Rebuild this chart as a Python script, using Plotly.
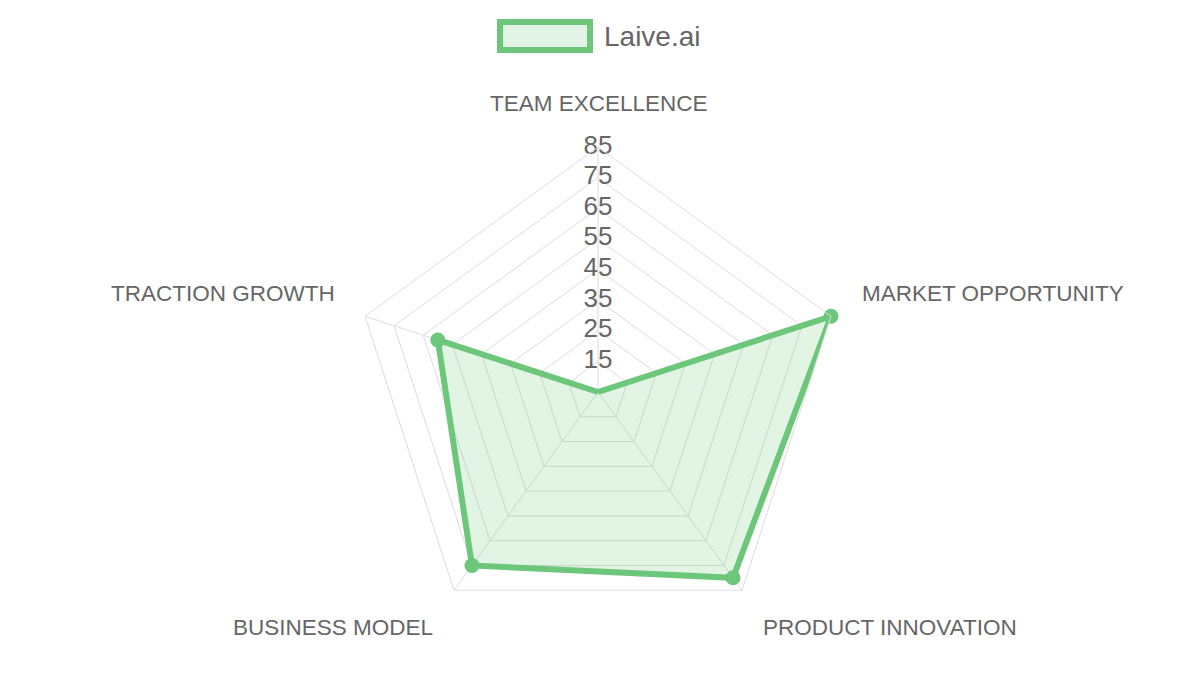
import plotly.graph_objects as go

categories = ["TEAM EXCELLENCE", "MARKET OPPORTUNITY", "PRODUCT INNOVATION",
              "BUSINESS MODEL", "TRACTION GROWTH"]
series_name = "Laive.ai"
values = [5, 85, 80, 75, 60]
tick_values = [15, 25, 35, 45, 55, 65, 75, 85]
tick_labels = ["15", "25", "35", "45", "55", "65", "75", "85"]
r_min, r_max = 5, 85

W, H = 1200, 675
LINE = "#6CC77A"
FILL = "rgba(108,199,122,0.2)"
GRID = "#DCDCDC"
TEXT = "#666666"
FONT = "Liberation Sans, Arial, sans-serif"


def px(x):
    return x / W


def py(y):
    return 1 - y / H


fig = go.Figure()

fig.add_trace(go.Scatterpolar(
    r=values + values[:1],
    theta=categories + categories[:1],
    mode="lines+markers",
    fill="toself",
    fillcolor=FILL,
    line=dict(color=LINE, width=6),
    marker=dict(color=LINE, size=15),
    name=series_name,
    showlegend=False,
))

fig.add_trace(go.Scatterpolar(
    r=tick_values,
    theta=[categories[0]] * len(tick_values),
    mode="text",
    text=tick_labels,
    textposition="middle center",
    textfont=dict(size=26, color=TEXT, family=FONT),
    hoverinfo="skip",
    showlegend=False,
    cliponaxis=False,
))

cx, cy, R = 598, 392, 245
fig.update_layout(
    width=W, height=H,
    margin=dict(l=0, r=0, t=0, b=0),
    paper_bgcolor="white",
    font=dict(family=FONT, color=TEXT),
    showlegend=False,
    polar=dict(
        domain=dict(x=[px(cx - R), px(cx + R)], y=[py(cy + R), py(cy - R)]),
        bgcolor="white",
        gridshape="linear",
        radialaxis=dict(
            range=[r_min, r_max],
            tickvals=tick_values,
            showticklabels=False,
            ticks="",
            showline=False,
            gridcolor=GRID,
            gridwidth=1,
            angle=90,
        ),
        angularaxis=dict(
            rotation=90,
            direction="clockwise",
            showticklabels=False,
            ticks="",
            showline=True,
            linecolor=GRID,
            linewidth=1,
            gridcolor=GRID,
            gridwidth=1,
        ),
    ),
)

# category labels
label_pos = [
    (599, 103, "center"),
    (860, 293, "left"),
    (761, 627, "left"),
    (435, 627, "right"),
    (337, 293, "right"),
]
for name, (x, y, align) in zip(categories, label_pos):
    fig.add_annotation(
        x=px(x), y=py(y), xref="paper", yref="paper",
        text=name, showarrow=False,
        xanchor=align, yanchor="middle",
        font=dict(size=22.5, color=TEXT, family=FONT),
    )

# legend
fig.add_shape(
    type="rect", xref="paper", yref="paper",
    x0=px(500), x1=px(590), y0=py(50), y1=py(22),
    line=dict(color=LINE, width=6),
    fillcolor="#E2F4E5",
)
fig.add_annotation(
    x=px(602), y=py(36), xref="paper", yref="paper",
    text=series_name, showarrow=False,
    xanchor="left", yanchor="middle",
    font=dict(size=28, color=TEXT, family=FONT),
)

fig.write_html("out.html")
